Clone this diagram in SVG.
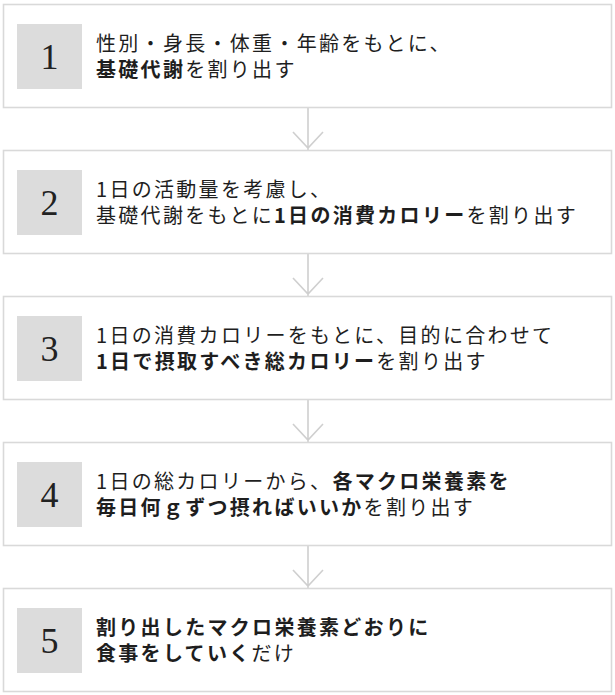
<svg xmlns="http://www.w3.org/2000/svg" width="615" height="695" viewBox="0 0 615 695">
<style>
.box{fill:#ffffff;stroke:#d9d9d9;stroke-width:1.6}
.sq{fill:#dcdcdc}
.num{font-family:"Liberation Serif","DejaVu Serif",serif;font-size:36px;fill:#222;text-anchor:middle}
.t{font-family:"Noto Sans CJK JP","Noto Sans",sans-serif;font-size:20px;letter-spacing:2.3px;fill:#1e1e1e}
.b{font-weight:700}
.con{fill:none;stroke:#cfcfcf;stroke-width:1.6}
</style>
<rect width="615" height="695" fill="#ffffff"/>
<g id="connectors">
<path class="con" d="M308 107.5V150.5M293 132L308 148L323 132"/>
<path class="con" d="M308 253.5V296.5M293 278L308 294L323 278"/>
<path class="con" d="M308 399.5V442.5M293 424L308 440L323 424"/>
<path class="con" d="M308 545.5V588.5M293 570L308 586L323 570"/>
</g>
<g id="step1">
<rect class="box" x="3.5" y="4.5" width="608" height="103"/>
<rect class="sq" x="17" y="24" width="65" height="65"/>
<text class="num" x="49.5" y="68.5">1</text>
<text class="t" x="96" y="51">性別・身長・体重・年齢をもとに、</text>
<text class="t" x="96" y="77"><tspan class="b">基礎代謝</tspan>を割り出す</text>
</g>
<g id="step2">
<rect class="box" x="3.5" y="150.5" width="608" height="103"/>
<rect class="sq" x="17" y="170" width="65" height="65"/>
<text class="num" x="49.5" y="214.5">2</text>
<text class="t" x="96" y="197">1日の活動量を考慮し、</text>
<text class="t" x="96" y="223">基礎代謝をもとに<tspan class="b">1日の消費カロリー</tspan>を割り出す</text>
</g>
<g id="step3">
<rect class="box" x="3.5" y="296.5" width="608" height="103"/>
<rect class="sq" x="17" y="316" width="65" height="65"/>
<text class="num" x="49.5" y="360.5">3</text>
<text class="t" x="96" y="343">1日の消費カロリーをもとに、目的に合わせて</text>
<text class="t" x="96" y="369"><tspan class="b">1日で摂取すべき総カロリー</tspan>を割り出す</text>
</g>
<g id="step4">
<rect class="box" x="3.5" y="442.5" width="608" height="103"/>
<rect class="sq" x="17" y="462" width="65" height="65"/>
<text class="num" x="49.5" y="506.5">4</text>
<text class="t" x="96" y="489">1日の総カロリーから、<tspan class="b">各マクロ栄養素を</tspan></text>
<text class="t" x="96" y="515"><tspan class="b">毎日何ｇずつ摂ればいいか</tspan>を割り出す</text>
</g>
<g id="step5">
<rect class="box" x="3.5" y="588.5" width="608" height="103"/>
<rect class="sq" x="17" y="608" width="65" height="65"/>
<text class="num" x="49.5" y="652.5">5</text>
<text class="t b" x="96" y="635">割り出したマクロ栄養素どおりに</text>
<text class="t" x="96" y="661"><tspan class="b">食事をしていく</tspan>だけ</text>
</g>
</svg>
